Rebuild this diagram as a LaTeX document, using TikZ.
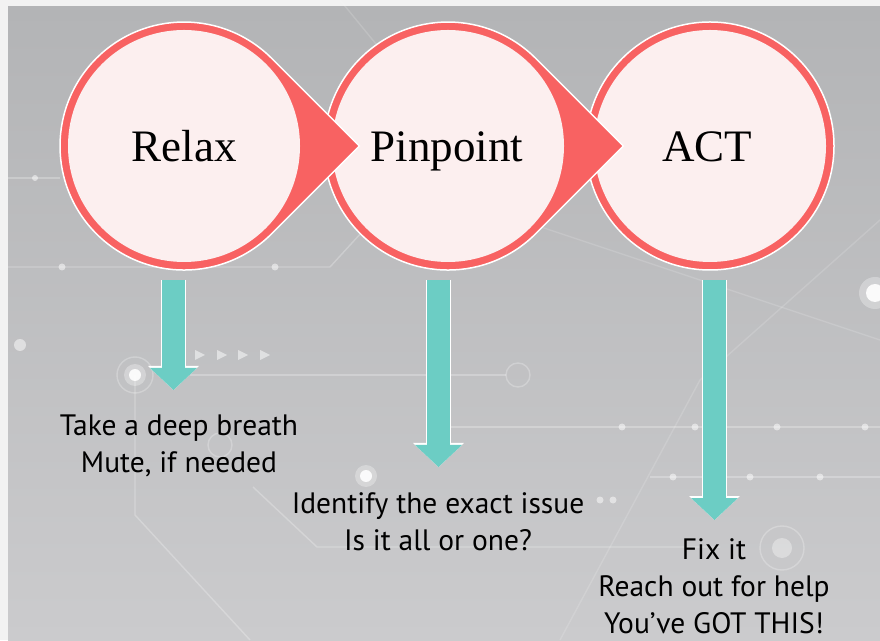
\documentclass[tikz,border=0pt]{standalone}
\usepackage{fontspec}
\setmainfont{Liberation Serif}
\newfontfamily\notefont{PT Sans}
\usetikzlibrary{arrows.meta}

\definecolor{stagered}{HTML}{F86262}
\definecolor{stagepink}{HTML}{FCEFEF}
\definecolor{flowteal}{HTML}{6CCDC4}
\definecolor{bgtop}{HTML}{B3B4B6}
\definecolor{bgbot}{HTML}{CBCBCD}
\definecolor{framegray}{HTML}{F2F2F2}

\tikzset{
  ring/.style={fill=stagered, draw=white, line width=1.5pt},
  core/.style={fill=stagepink},
  stagetext/.style={font=\fontsize{45}{54}\selectfont, anchor=base, inner sep=0pt},
  note/.style={font=\notefont\fontsize{29.5}{37}\selectfont, align=center, anchor=north, inner sep=0pt},
  flow/.style={draw=flowteal, line width=23pt,
    -{Triangle[length=22pt, width=47pt, line width=0pt]},
    preaction={draw=white, line width=25.5pt, -{Triangle[length=24pt, width=51pt, line width=0pt]}}},
  circuit/.style={white, opacity=.25, line width=1.4pt},
  dot/.style={white, opacity=.5},
}

\begin{document}
\begin{tikzpicture}[x=1pt, y=1pt]
  % background
  \fill[framegray] (0,0) rectangle (880,640);
  \shade[top color=bgtop, bottom color=bgbot] (8,0) rectangle (880,633);
  \useasboundingbox (0,0) rectangle (880,640);

  % circuit lines
  \draw[circuit] (8,462) -- (60,462);
  \draw[circuit] (8,373) -- (330,373) -- (362,408);
  \draw[circuit] (190,265) -- (430,265);
  \draw[circuit] (135,265) -- (135,125) -- (250,0);
  \draw[circuit] (450,265) -- (506,265);
  \draw[circuit] (253,153) -- (317,93) -- (720,93);
  \draw[circuit] (440,213) -- (880,213);
  \draw[circuit] (650,163) -- (880,163);
  \draw[circuit, opacity=.15] (340,640) -- (520,420) -- (880,300);
  \draw[circuit, opacity=.15] (560,0) -- (700,260) -- (880,420);
  \draw[circuit] (518,265) circle (12);
  \draw[circuit] (220,195) circle (12);
  \draw[circuit] (782,92) circle (22);
  \draw[circuit] (135,265) circle (18);
  \foreach \x in {35} \fill[dot] (\x,462) circle (3);
  \foreach \x in {62,275} \fill[dot] (\x,373) circle (3.5);
  \foreach \x in {622,695,777,865} \fill[dot] (\x,213) circle (3.5);
  \foreach \x in {673,750,820} \fill[dot] (\x,163) circle (3.5);
  \foreach \x in {600,613} \fill[dot] (\x,140) circle (3.5);
  \foreach \x in {200,222,243,265}
    \fill[dot] (\x-5,280) -- (\x+5,285) -- (\x-5,290) -- cycle;
  \fill[dot] (20,295) circle (6);
  \fill[white, opacity=.3] (135,265) circle (11);
  \fill[white, opacity=.9] (135,265) circle (6);
  \fill[white, opacity=.3] (366,164) circle (11);
  \fill[white, opacity=.9] (366,164) circle (6);
  \fill[white, opacity=.35] (782,92) circle (10);
  \fill[white, opacity=.3] (875,347) circle (16);
  \fill[white, opacity=.9] (875,347) circle (9);

  % stages
  \coordinate (relax-mid) at (184,494);
  \coordinate (pinpoint-mid) at (448,494);
  \coordinate (act-mid) at (710,494);

  \path[ring] (act-mid) circle[radius=124];
  \path[core] (act-mid) circle[radius=116];
  \path[ring] (pinpoint-mid) ++(45:124) -- ++(87.7,-87.7) -- ++(-87.7,-87.7)
    arc[start angle=-45, end angle=-315, radius=124] -- cycle;
  \path[core] (pinpoint-mid) circle[radius=116];
  \path[ring] (relax-mid) ++(45:124) -- ++(87.7,-87.7) -- ++(-87.7,-87.7)
    arc[start angle=-45, end angle=-315, radius=124] -- cycle;
  \path[core] (relax-mid) circle[radius=116];

  \node[stagetext] (relax) at (184,478) {Relax};
  \node[stagetext] (pinpoint) at (447,478) {Pinpoint};
  \node[stagetext] (act) at (707,478) {ACT};

  % notes
  \node[note] (breath) at (179,225) {Take a deep breath\\Mute, if needed};
  \node[note] (issue) at (438,148) {Identify the exact issue\\Is it all or one?};
  \node[note] (fixit) at (714,102) {Fix it\\Reach out for help\\You’ve GOT THIS!};

  % arrows
  \coordinate (s1) at (173.5,360);
  \coordinate (s2) at (438.5,360);
  \coordinate (s3) at (714.5,360);
  \draw[flow, shorten >=25pt] (s1) -- (s1 |- breath.north);
  \draw[flow, shorten >=25pt] (s2) -- (s2 |- issue.north);
  \draw[flow, shorten >=18pt] (s3) -- (s3 |- fixit.north);
\end{tikzpicture}
\end{document}
